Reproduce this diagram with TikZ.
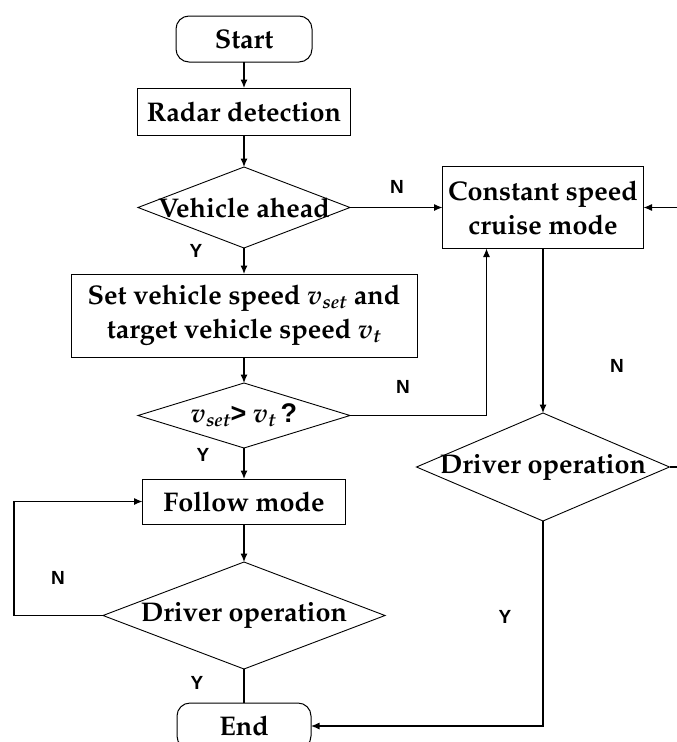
\documentclass[tikz,border=0pt]{standalone}
\usepackage[T1,TU]{fontenc}
\usepackage{fontspec}
\newfontfamily\lblfont{Liberation Sans}
\usetikzlibrary{shapes.geometric,arrows.meta}
% bold Palatino for the box texts
\newcommand\palbf{\fontencoding{T1}\fontfamily{ppl}\fontseries{b}\fontshape{n}\fontsize{27}{34}\selectfont}
\newcommand\spd[1]{{\itshape v\textsubscript{#1}}}
\newcommand\sym[1]{{\lblfont\bfseries #1}}
\tikzset{
  box/.style={draw, line width=1pt, inner sep=0pt, outer sep=0pt, font=\palbf, align=center},
  term/.style={box, rounded corners=13pt},
  dia/.style={draw, diamond, line width=0.9pt, inner sep=0pt, outer sep=0pt},
  dtext/.style={inner sep=0pt, font=\palbf},
  yn/.style={inner sep=0pt, font=\lblfont\bfseries\fontsize{19}{22}\selectfont},
  flow/.style={line width=1.1pt, -{Latex[length=8.5pt,width=7pt]}},
  link/.style={line width=1.1pt},
}
\begin{document}
\begin{tikzpicture}[x=1pt,y=-1pt]
\useasboundingbox (0,0) rectangle (677,742);
\clip (0,0) rectangle (677,742);

% left column
\node[term, minimum width=136, minimum height=46] (start) at (244,39) {Start};
\node[box, minimum width=213, minimum height=47] (radar) at (244,111.5) {Radar detection};
\node[dia, minimum width=212, minimum height=81] (d1) at (244,207.5) {};
\node[dtext] (d1t) at (d1) {Vehicle ahead};
\node[box, minimum width=346, minimum height=83] (setbox) at (244,315.5)
  {Set vehicle speed \spd{set} and\\target vehicle speed \spd{t}};
\node[dia, minimum width=212, minimum height=65] (d2) at (244,415.5) {};
\node[dtext] (d2t) at (d2) {\spd{set}\sym{>} \spd{t}\,\sym{?}};
\node[box, minimum width=203, minimum height=45] (follow) at (244,501.5) {Follow mode};
\node[dia, minimum width=282, minimum height=107] (d4) at (244,615.5) {};
\node[dtext] (d4t) at (d4) {Driver operation};
\node[term, minimum width=134, minimum height=46] (end) at (244,726) {End};

% right column
\node[box, minimum width=201, minimum height=82] (cruise) at (543,207.5) {Constant speed\\cruise mode};
\node[dia, minimum width=253, minimum height=108] (d3) at (543,467) {};
\node[dtext] (d3t) at (d3) {Driver operation};

\coordinate (cin) at ([xshift=44pt]cruise.south west);

% connectors
\draw[flow] (start) -- (radar);
\draw[flow] (radar) -- (d1);
\draw[flow] (d1.east) -- (cruise.west);
\draw[flow] (d1) -- (setbox);
\draw[flow] (setbox) -- (d2);
\draw[flow] (d2.east) -| (cin);
\draw[flow] (d2) -- (follow);
\draw[flow] (follow) -- (d4);
\draw[flow] (d4.west) -- ++(-89,0) |- (follow.west);
\draw[link] (d4) -- (end);
\draw[flow] (cruise) -- (d3);
\draw[flow] (d3.east) -- ++(25,0) |- (cruise.east);
\draw[flow] (d3.south) |- (end.east);

% branch labels
\node[yn] (n1) at (397,187) {N};
\node[yn] (y1) at (196,251) {Y};
\node[yn] (n2) at (403,387) {N};
\node[yn] (y2) at (203,455) {Y};
\node[yn] (n3) at (617,366) {N};
\node[yn] (y3) at (505,617) {Y};
\node[yn] (n4) at (58,578) {N};
\node[yn] (y4) at (197,683) {Y};
\end{tikzpicture}
\end{document}
